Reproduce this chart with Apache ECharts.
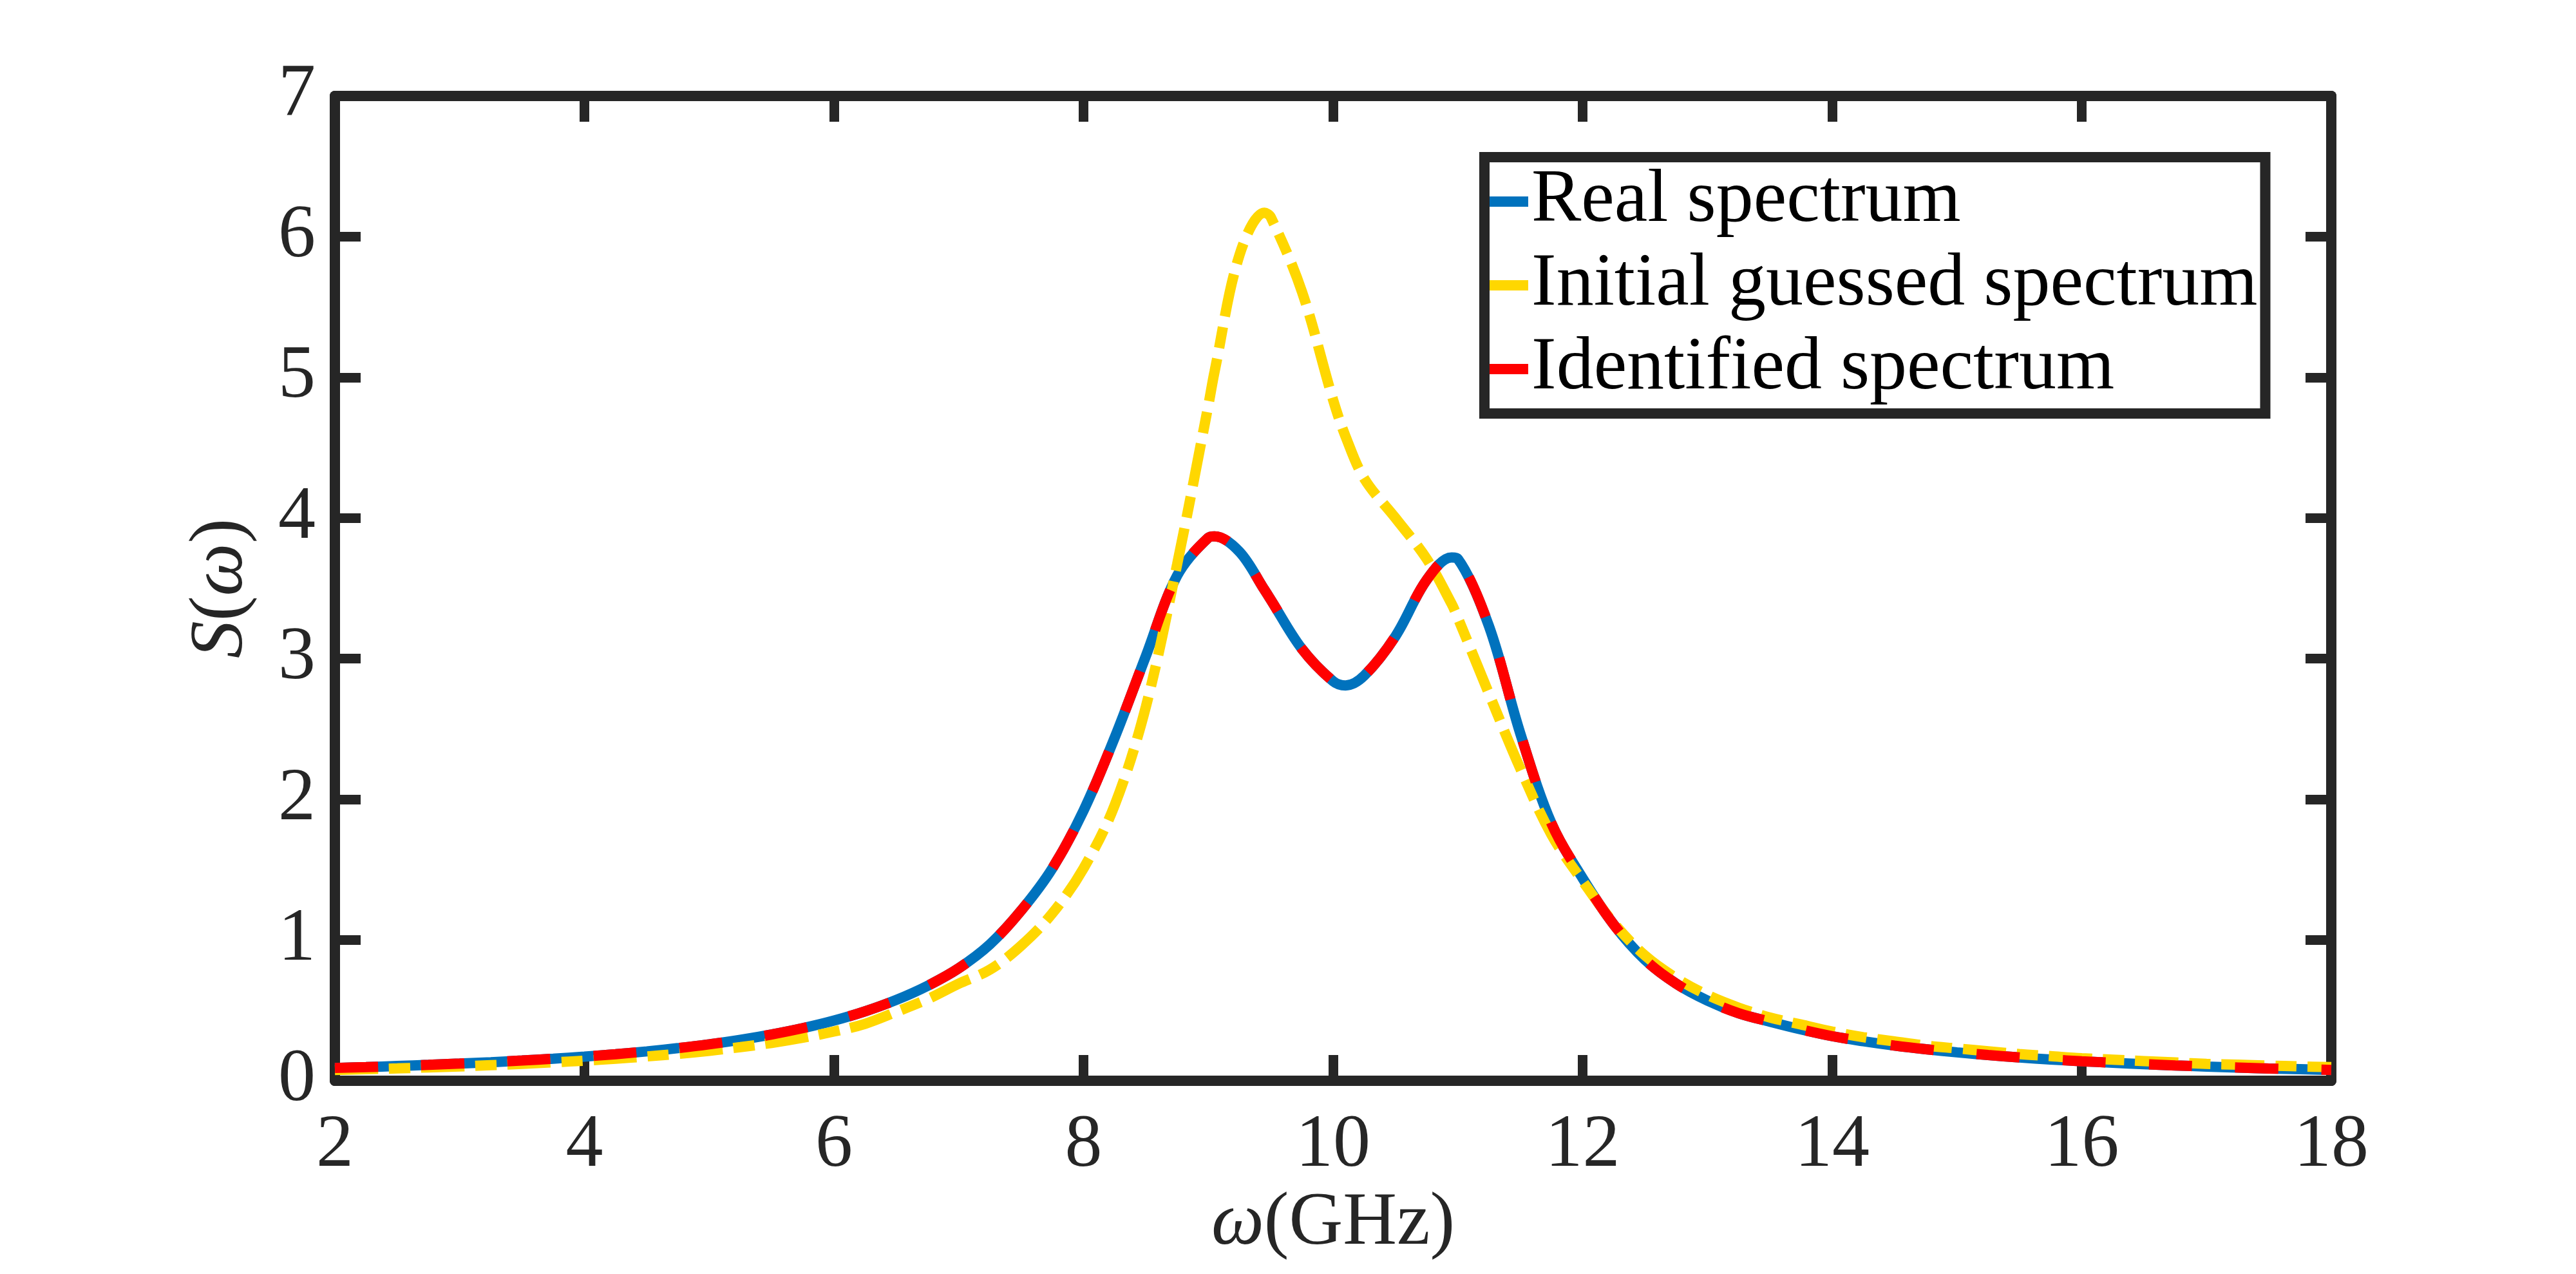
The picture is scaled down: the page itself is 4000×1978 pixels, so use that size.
<!DOCTYPE html>
<html>
<head>
<meta charset="utf-8">
<script src="https://cdn.jsdelivr.net/npm/echarts@6/dist/echarts.min.js"></script>
<style>
  html, body { margin: 0; padding: 0; background: #fff; }
  #main { width: 4000px; height: 1978px; }
</style>
</head>
<body>
<div id="main"></div>
<script>
// frequency grid (GHz), values every 0.25 GHz plus the peaks and the dip
var freq = [2, 2.25, 2.5, 2.75, 3, 3.25, 3.5, 3.75, 4, 4.25, 4.5, 4.75, 5, 5.25, 5.5, 5.75,
            6, 6.25, 6.5, 6.75, 7, 7.25, 7.5, 7.75, 8, 8.25, 8.5, 8.75, 9, 9.05, 9.25, 9.45, 9.5, 9.75,
            10, 10.1, 10.25, 10.5, 10.75, 10.95, 11, 11.25, 11.5, 11.75, 12, 12.25, 12.5, 12.75, 13, 13.25, 13.5, 13.75,
            14, 14.25, 14.5, 14.75, 15, 15.25, 15.5, 15.75, 16, 16.25, 16.5, 16.75, 17, 17.25, 17.5, 17.75, 18];
var realSpectrum = [0.091, 0.097, 0.105, 0.113, 0.122, 0.132, 0.144, 0.157, 0.172, 0.189, 0.209, 0.232, 0.259, 0.291, 0.329, 0.374,
                    0.428, 0.494, 0.575, 0.675, 0.80, 0.97, 1.21, 1.51, 1.92, 2.44, 3.02, 3.59, 3.86, 3.87, 3.76, 3.49, 3.42, 3.07,
                    2.84, 2.81, 2.88, 3.16, 3.56, 3.72, 3.71, 3.23, 2.47, 1.83, 1.44, 1.11, 0.86, 0.69, 0.57, 0.48, 0.42, 0.365,
                    0.317, 0.281, 0.250, 0.224, 0.202, 0.183, 0.166, 0.151, 0.139, 0.128, 0.118, 0.109, 0.101, 0.094, 0.087, 0.082, 0.077];
var guessedSpectrum = [0.077, 0.082, 0.088, 0.095, 0.102, 0.111, 0.120, 0.131, 0.143, 0.157, 0.173, 0.191, 0.213, 0.239, 0.269, 0.306,
                       0.350, 0.405, 0.49, 0.58, 0.69, 0.79, 0.96, 1.19, 1.51, 1.96, 2.66, 3.67, 4.80, 5.04, 5.87, 6.17, 6.14, 5.61,
                       4.84, 4.58, 4.28, 4.00, 3.71, 3.39, 3.29, 2.75, 2.22, 1.75, 1.42, 1.12, 0.89, 0.73, 0.61, 0.52, 0.45, 0.40,
                       0.35, 0.31, 0.28, 0.25, 0.23, 0.21, 0.19, 0.175, 0.16, 0.15, 0.14, 0.13, 0.12, 0.115, 0.108, 0.102, 0.097];
var identifiedSpectrum = [0.091, 0.097, 0.105, 0.113, 0.122, 0.132, 0.144, 0.157, 0.172, 0.189, 0.209, 0.232, 0.259, 0.291, 0.329, 0.374,
                          0.428, 0.494, 0.575, 0.675, 0.80, 0.97, 1.21, 1.51, 1.92, 2.44, 3.02, 3.59, 3.86, 3.87, 3.76, 3.49, 3.42, 3.07,
                          2.84, 2.81, 2.88, 3.16, 3.56, 3.72, 3.71, 3.23, 2.47, 1.83, 1.44, 1.11, 0.86, 0.69, 0.57, 0.48, 0.42, 0.365,
                          0.317, 0.281, 0.250, 0.224, 0.202, 0.183, 0.166, 0.151, 0.139, 0.128, 0.118, 0.109, 0.101, 0.094, 0.087, 0.082, 0.077];
var seriesNames = ['Real spectrum', 'Initial guessed spectrum', 'Identified spectrum'];

function pairs(xs, ys) {
    return xs.map(function (x, i) { return [x, ys[i]]; });
}

var axisColor = '#262626';
var serif = 'Liberation Serif';
var fs = 116;

function boxAxis(pos, min, max, step, isMain) {
    return {
        type: 'value',
        position: pos,
        min: min,
        max: max,
        interval: step,
        axisLine: { show: true, onZero: false, lineStyle: { color: axisColor, width: 16 } },
        axisTick: { show: true, inside: true, length: 40, lineStyle: { color: axisColor, width: 15 } },
        axisLabel: {
            show: isMain,
            color: axisColor,
            fontFamily: serif,
            fontSize: fs,
            margin: pos === 'bottom' ? 44 : 30
        },
        splitLine: { show: false }
    };
}

var myChart = echarts.init(document.getElementById('main'), null, { renderer: 'canvas' });

var mathText = {
    rich: {
        it: { fontFamily: serif, fontStyle: 'italic', fontSize: fs, color: axisColor },
        rm: { fontFamily: serif, fontSize: fs, color: axisColor }
    }
};

var xMain = boxAxis('bottom', 2, 18, 2, true);
xMain.name = '{it|ω}{rm|(GHz)}';
xMain.nameLocation = 'middle';
xMain.nameGap = 160;
xMain.nameTextStyle = mathText;

var yMain = boxAxis('left', 0, 7, 1, true);
yMain.name = '{it|S}{rm|(}{it|ω}{rm|)}';
yMain.nameLocation = 'middle';
yMain.nameGap = 118;
yMain.nameTextStyle = mathText;

var option = {
    animation: false,
    backgroundColor: '#ffffff',
    grid: { left: 520, top: 149, width: 3100, height: 1529, containLabel: false },
    xAxis: [xMain, boxAxis('top', 2, 18, 2, false)],
    yAxis: [yMain, boxAxis('right', 0, 7, 1, false)],
    legend: {
        data: seriesNames,
        orient: 'vertical',
        left: 2305,
        top: 244,
        align: 'left',
        icon: 'rect',
        itemWidth: 60,
        itemHeight: 16,
        itemGap: 14,
        padding: [11, 12, 11, 8],
        borderColor: axisColor,
        borderWidth: 16,
        backgroundColor: '#ffffff',
        textStyle: { fontFamily: serif, fontSize: fs, color: '#000', lineHeight: 116 }
    },
    series: [
        {
            name: seriesNames[0],
            type: 'line',
            data: pairs(freq, realSpectrum),
            smooth: 0.35,
            showSymbol: false,
            itemStyle: { color: '#0072BD' },
            lineStyle: { color: '#0072BD', width: 16 },
            z: 2
        },
        {
            name: seriesNames[1],
            type: 'line',
            data: pairs(freq, guessedSpectrum),
            smooth: 0.35,
            showSymbol: false,
            itemStyle: { color: '#FFD700' },
            lineStyle: { color: '#FFD700', width: 16, type: [67, 17, 33, 17] },
            z: 3
        },
        {
            name: seriesNames[2],
            type: 'line',
            data: pairs(freq, identifiedSpectrum),
            smooth: 0.35,
            showSymbol: false,
            itemStyle: { color: '#FF0000' },
            lineStyle: { color: '#FF0000', width: 16, type: [67, 67] },
            z: 4
        }
    ]
};
myChart.setOption(option);
</script>
</body>
</html>
